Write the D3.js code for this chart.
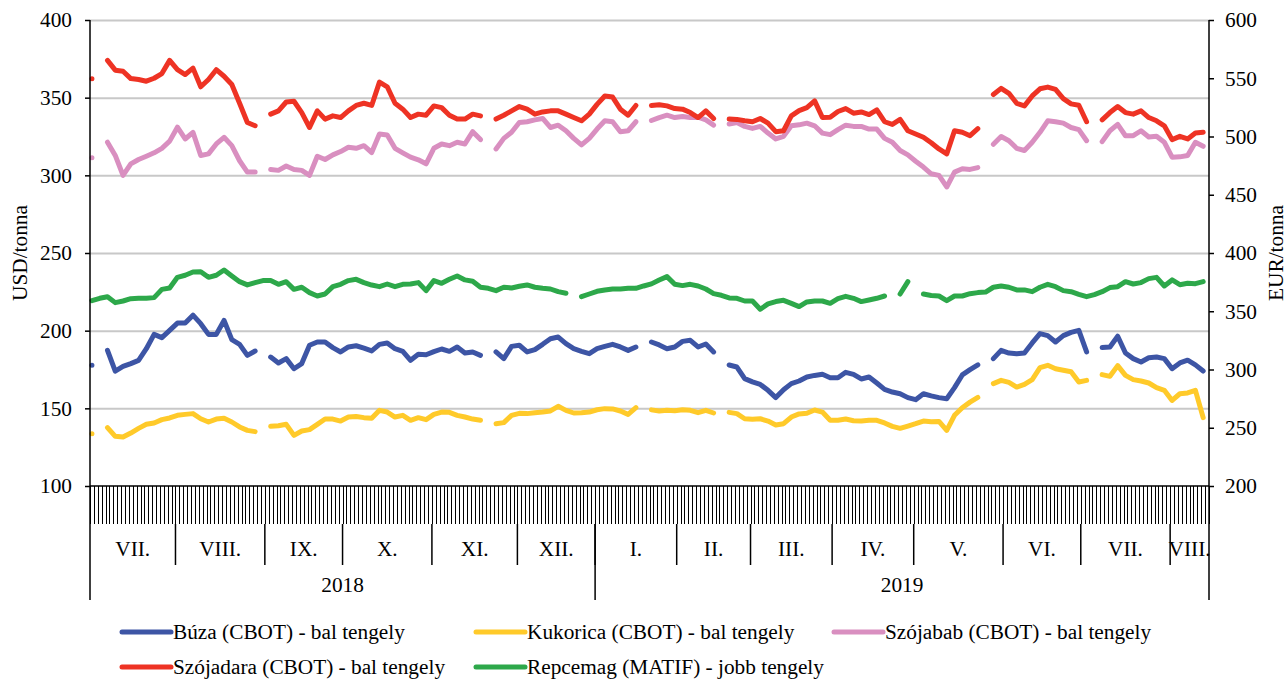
<!DOCTYPE html>
<html><head><meta charset="utf-8">
<script src="https://cdn.jsdelivr.net/npm/d3@7"></script>
<style>
body{margin:0;background:#fff}
svg{display:block}
text{font-family:"Liberation Serif","Times New Roman",serif;fill:#000}
</style>
</head><body>
<svg id="c" width="1287" height="679"></svg>
<script>
// ---- data ----
const months = ["VII.","VIII.","IX.","X.","XI.","XII.","I.","II.","III.","IV.","V.","VI.","VII.","VIII."];
const monthDays = [22,23,20,23,22,20,21,19,21,21,23,20,23,10];
const years = ["2018","2019"];
const yearMonthCount = [6,8];
const leftTicks = [100,150,200,250,300,350,400];
const rightTicks = [200,250,300,350,400,450,500,550,600];
const sampleStep = 2; // one value every 2 trading days

const buza = [177.7,null,187.3,174,177,178.8,180.9,188.4,197.6,195.5,200.2,204.9,204.9,210,204.5,197.6,197.6,206.6,194.2,191.2,184.1,186.9,null,183,179.2,182,175.5,178.8,190.6,192.7,192.7,189.1,186.3,189.5,190.3,188.8,
187,191.2,192.1,188.4,186.7,180.9,184.8,184.5,186.5,188.2,186.7,189.5,185.6,186.3,184.1,null,186.3,182,189.9,190.6,186.3,187.8,191.2,194.8,195.9,191.6,188.4,186.7,185.2,188.4,189.9,191.2,189.5,187.3,189.5,null,
192.7,190.8,188.4,189.5,193.1,193.8,189.5,191.4,186.3,null,177.9,176.6,169.1,167,165.4,161.6,156.9,162,165.9,167.6,170.2,171.2,171.9,169.7,169.7,173.2,171.9,168.9,170.2,166.3,162.2,160.5,159.4,156.9,155.6,159.4,
158,156.9,156.2,163.3,171.5,174.9,178,null,182,187.3,185.6,185.2,185.6,192.1,198.1,196.8,192.7,196.8,198.9,200.2,186.3,null,189.1,189.5,196.4,185.6,182,179.8,182.6,183,182,175.5,179.2,181,178,174];

const kukorica = [133.7,null,137.6,132,131.5,134.1,137.1,139.7,140.6,142.7,143.8,145.5,146.1,146.6,143.3,141.2,143.1,143.6,141.2,138,135.8,135,null,138.4,138.8,139.7,132.6,135.4,136.3,139.7,143.1,143.1,141.8,144.4,144.8,144,
143.6,148.7,147.6,144.4,145.5,142.3,144,142.7,146.1,147.6,147.4,145.5,144.4,143.1,142.3,null,140.1,140.8,145.5,146.8,146.6,147.2,147.6,148.3,151.3,148.7,147,147.2,147.6,149.1,149.8,149.6,148.3,146.1,150.4,null,
149,148.3,148.7,148.5,149.1,148.7,147.2,148.7,147,null,147.4,146.6,143.3,142.9,143.3,141.8,139.3,140.1,144.4,146.4,146.8,148.9,147.6,142.3,142.3,143.1,142,141.8,142.3,142.3,140.6,138.4,137.1,138.6,140.1,141.8,
141.3,141.6,135.8,145.5,150.4,154,157,null,165.9,168,166.7,163.7,165.4,168.5,176.2,177.7,175.5,174.5,173.6,167,168,null,171.7,170.6,177.5,171.2,168.5,167.6,166.3,163.3,161.6,155.1,159.4,159.9,161.6,144];

const szojabab = [311.3,null,321.3,312.8,300,307.4,310.2,312.3,314.5,317.4,322,331,323.4,327.7,312.8,313.8,320.2,324.5,319.1,309.4,302.1,302.1,null,303.8,303.2,306,303.8,303.2,300,312.3,310.2,313.2,315.3,318.1,317.4,319.1,
314.7,326.6,326,317.4,314.5,311.7,310,307.4,317.4,320.2,319.1,321.3,320.2,328.1,323,null,317,323.8,327.7,334,334.5,335.7,336.6,330.8,332.3,328.7,323.8,319.6,323.8,329.8,335.1,334.5,328.1,328.7,334.5,null,
335.3,337.2,338.7,337.2,337.9,337.2,337.4,335.7,332.3,null,333,334,331.5,330.2,331.5,327.2,323.4,325.1,331.9,332.5,333.6,331.9,327.2,326.2,329.4,332.3,331.5,331.5,329.8,329.8,323.8,321.3,316,313.2,309.1,305.3,
301,300,292.5,302.1,304.2,303.8,305,null,320,325,322.3,317.4,316,321.3,327.7,335.1,334.5,333.6,330.8,329.4,322.3,null,321.7,328.7,332.8,325.5,325.5,328.7,324.7,325.1,321.3,311.7,311.9,312.8,321.3,318.7];

const szojadara = [362.1,null,374,367.7,367,362.3,361.7,360.6,362.5,365.5,374,368,364.9,369,357,361.7,368,363.8,358.5,346.4,334,331.9,null,339.4,341.5,347.2,347.7,340.4,330.8,341.5,336.2,338.3,337.2,341.5,345,346.4,
345,360,357,346.4,342.6,337.2,339.4,338.7,344.7,343.6,338.7,336.2,336.2,339.4,338.3,null,336.2,338.7,341.5,344.3,342.6,339.4,340.8,341.5,341.5,339.4,337.2,335.1,339.4,345.7,351.1,350.4,342.6,338.7,345,null,
345,345.5,344.7,343,342.6,340.4,337.2,341.5,336.6,null,336.2,336,335.1,334.5,336.6,333.6,328.1,328.7,338.3,341.7,343.6,347.9,337.2,337.4,341.1,343,340,340.8,339.1,342.1,334.5,332.8,336,328.7,326.6,324.5,
321,317,313.8,328.7,327.7,325.5,330,null,352,356,352.8,346.4,344.7,351.1,355.7,356.8,355.3,349.4,346,345.1,334.5,null,335.7,340.4,344.3,340.4,339.4,341.5,337.2,335.1,331.9,323,325.1,323.4,327.2,327.7];

const repcemag = [359.1,361.1,362.5,357.4,358.8,360.8,361.1,361.1,361.7,368.8,370,379.1,380.9,383.7,384,379.1,380.9,385.4,380.3,375.4,372.6,374.6,376.3,376.3,373.1,375.4,368.8,370.6,366,363.1,364.8,371.1,373.1,376.3,377.4,374.6,
372.5,371.1,373.4,371.1,373.1,373.4,374.6,367.7,376.3,374,377.4,380.3,376.9,375.7,370.6,369.7,367.7,370.6,370,371.4,372.6,370.6,369.7,369.1,366.8,365.4,null,362.5,364.8,367.1,368.3,369.1,369.1,369.7,369.7,371.7,
373.5,376.8,379.7,373.1,372,373.1,371.7,369.1,365.1,363.7,361.4,361.1,358.8,358.8,351.7,356.3,358.3,359.4,356.8,354,358,358.8,358.8,356.8,360.8,362.8,361.1,358.3,359.7,361.1,363.1,null,364.8,375.4,null,364.8,
363.5,363.1,359.1,363.1,363.1,365.1,366,366.5,370.6,371.7,370.6,368.3,368.3,366.8,370.6,373.1,371.1,367.7,366.8,364.5,362.5,364.3,366.8,370.3,371.1,375.4,373.4,374.6,378,379.1,371.7,376.9,372.8,374,373.7,375.4];

const seriesNames = ["Búza (CBOT) - bal tengely","Kukorica (CBOT) - bal tengely","Szójabab (CBOT) - bal tengely","Szójadara (CBOT) - bal tengely","Repcemag (MATIF) - jobb tengely"];
const seriesData = [buza,kukorica,szojabab,szojadara,repcemag];
const seriesAxis = ["left","left","left","left","right"];
const seriesColors = ["#3d55a5","#ffca2a","#d98fc0","#ee3324","#2da84a"];

// ---- layout ----
const L=90,R=1209,T=20,B=486;
const svg=d3.select("#c");
const nDays=d3.sum(monthDays);
const xb=d3.scaleBand().domain(d3.range(nDays)).range([L,R]).padding(0);
const xl=d3.scaleLinear().domain([0,nDays]).range([L,R]);
const yL=d3.scaleLinear().domain([100,400]).range([B,T]);
const yR=d3.scaleLinear().domain([200,600]).range([B,T]);
const FS=21.3;

// gridlines
svg.append("g").attr("transform",`translate(${L},0)`)
  .call(d3.axisLeft(yL).tickValues(leftTicks.filter(v=>v>100)).tickSize(-(R-L)).tickFormat(""))
  .call(g=>{g.select(".domain").remove();g.selectAll("line").attr("stroke","#c8c8c8").attr("stroke-width",2);});

// series
const xOf=i=>xb(i*sampleStep)+xb.bandwidth()/2;
seriesData.forEach((arr,si)=>{
  const ys = seriesAxis[si]==="left"?yL:yR;
  const line=d3.line().defined(d=>d!=null).x((d,i)=>xOf(i)).y(d=>ys(d));
  svg.append("path").attr("d",line(arr)).attr("fill","none")
    .attr("stroke",seriesColors[si]).attr("stroke-width",5)
    .attr("stroke-linejoin","round").attr("stroke-linecap","round");
});

// left axis
svg.append("g").attr("transform",`translate(${L},0)`)
  .call(d3.axisLeft(yL).tickValues(leftTicks).tickSize(5).tickSizeOuter(0).tickPadding(13))
  .call(g=>{g.attr("font-family",null);g.select(".domain").remove();g.selectAll("line").attr("stroke","#000").attr("stroke-width",1.5);
    g.selectAll("text").attr("font-size",FS);});
// right axis
svg.append("g").attr("transform",`translate(${R},0)`)
  .call(d3.axisRight(yR).tickValues(rightTicks).tickSize(5).tickSizeOuter(0).tickPadding(11))
  .call(g=>{g.attr("font-family",null);g.select(".domain").remove();g.selectAll("line").attr("stroke","#000").attr("stroke-width",1.5);
    g.selectAll("text").attr("font-size",FS);});

// bottom: daily ticks
svg.append("g").attr("transform",`translate(0,${B})`)
  .call(d3.axisBottom(xl).tickValues(d3.range(nDays+1)).tickSize(38).tickSizeOuter(0).tickFormat(""))
  .call(g=>{g.select(".domain").remove();g.selectAll("line").attr("stroke","#000").attr("stroke-width",1).attr("shape-rendering","crispEdges");});

// frame lines
const frame=svg.append("g").attr("stroke","#000").attr("stroke-width",1.5);
frame.append("line").attr("x1",L).attr("x2",L).attr("y1",T).attr("y2",600);
frame.append("line").attr("x1",R).attr("x2",R).attr("y1",T).attr("y2",600);
frame.append("line").attr("x1",L).attr("x2",R).attr("y1",B).attr("y2",B);

// month separators & labels
const monthStart=[0];monthDays.forEach((d,i)=>monthStart.push(monthStart[i]+d));
monthStart.slice(1,-1).forEach(s=>{
  frame.append("line").attr("x1",xl(s)).attr("x2",xl(s)).attr("y1",524).attr("y2",565);
});
svg.append("g").selectAll("text").data(months).join("text")
  .attr("x",(m,i)=>(xl(monthStart[i])+xl(monthStart[i+1]))/2).attr("y",549)
  .attr("dominant-baseline","central").attr("text-anchor","middle").attr("font-size",FS).text(d=>d);
// years
const yearStart=[0];let acc=0;yearMonthCount.forEach(c=>{acc+=c;yearStart.push(monthStart[acc]);});
yearStart.slice(1,-1).forEach(s=>{
  frame.append("line").attr("x1",xl(s)).attr("x2",xl(s)).attr("y1",524).attr("y2",600);
});
svg.append("g").selectAll("text").data(years).join("text")
  .attr("x",(m,i)=>(xl(yearStart[i])+xl(yearStart[i+1]))/2).attr("y",585)
  .attr("dominant-baseline","central").attr("text-anchor","middle").attr("font-size",FS).text(d=>d);

// axis titles
svg.append("text").attr("transform",`translate(20,253) rotate(-90)`).attr("text-anchor","middle")
  .attr("dominant-baseline","central").attr("font-size",FS).text("USD/tonna");
svg.append("text").attr("transform",`translate(1276,253) rotate(-90)`).attr("text-anchor","middle")
  .attr("dominant-baseline","central").attr("font-size",FS).text("EUR/tonna");

// legend
const legCols=[122,476,834], legRows=[632,667];
seriesNames.forEach((n,i)=>{
  const cx=legCols[i%3], cy=legRows[Math.floor(i/3)];
  const g=svg.append("g");
  g.append("line").attr("x1",cx).attr("x2",cx+49).attr("y1",cy).attr("y2",cy)
    .attr("stroke",seriesColors[i]).attr("stroke-width",5).attr("stroke-linecap","round");
  g.append("text").attr("x",cx+51).attr("y",cy).attr("dominant-baseline","central").attr("font-size",FS).text(n);
});
</script>
</body></html>
